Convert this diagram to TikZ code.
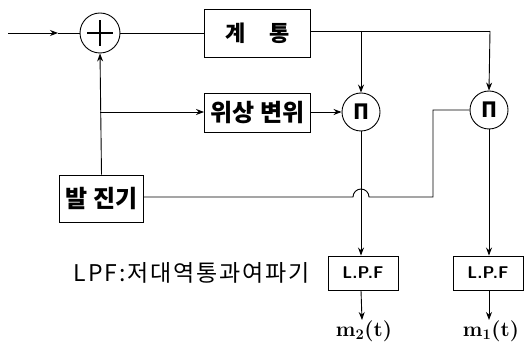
\documentclass[tikz,border=0pt]{standalone}
\usepackage{fontspec}
\newfontfamily\kr{Noto Sans CJK KR}
\newfontfamily\krw[LetterSpace=8]{Noto Sans CJK KR}
\usetikzlibrary{arrows.meta}
\begin{document}
\begin{tikzpicture}[x=1pt,y=-1pt,line width=0.9pt,
  blk/.style={draw,rectangle,inner sep=0pt,font=\kr\bfseries},
  opc/.style={draw,circle,minimum size=38pt,inner sep=0pt,font=\kr\bfseries},
  arr/.style={-{Stealth[length=8pt,width=6pt]}}]
\useasboundingbox (0,0) rectangle (530,347);
\coordinate (in) at (8,33);
\coordinate (inm) at (58,33);
\node[opc,minimum size=40pt] (add) at (100,33) {};
\draw[line width=1.6pt] ([yshift=-13pt]add.center) -- ([yshift=13pt]add.center)
  ([xshift=-13pt]add.center) -- ([xshift=13pt]add.center);
\node[blk,minimum width=106pt,minimum height=48pt] (sys) at (257.5,33) {\fontsize{22}{22}\selectfont 계\hspace{24pt}통};
\node[blk,minimum width=106pt,minimum height=39pt] (ph) at (257.5,112.5) {\fontsize{24}{24}\selectfont 위상 변위};
\node[blk,minimum width=84pt,minimum height=47pt] (osc) at (101.5,198.5) {\fontsize{24}{24}\selectfont 발 진기};
\node[opc] (p1) at (361,112) {\fontsize{21}{21}\selectfont Π};
\node[opc] (p2) at (489,110) {\fontsize{21}{21}\selectfont Π};
\node[blk,minimum width=70pt,minimum height=34pt,font=\sffamily\bfseries] (l1) at (363,273) {\fontsize{17}{17}\selectfont L.P.F};
\node[blk,minimum width=70pt,minimum height=34pt,font=\sffamily\bfseries] (l2) at (488,273) {\fontsize{17}{17}\selectfont L.P.F};
\node[font=\krw,anchor=west] (leg) at (70,273) {\fontsize{23}{23}\selectfont LPF:저대역통과여파기};
\node[font=\bfseries] (o1) at (364,331) {\fontsize{21}{21}\selectfont m\textsubscript{2}(t)};
\node[font=\bfseries] (o2) at (491,331) {\fontsize{21}{21}\selectfont m\textsubscript{1}(t)};
\coordinate (c1) at (490,31);
\coordinate (c2) at (361,31);
\coordinate (j1) at (100,112);
\coordinate (b1) at (433,197);
\draw[arr] (in) -- (inm);
\draw (inm) -- (add.west);
\draw (add.east) -- (sys.west);
\draw (sys.east |- c1) -- (c1);
\draw[arr] (c1) -- (p2.north);
\draw[arr] (c2) -- (p1.north);
\draw[arr] (ph.east |- p1) -- (p1.west);
\draw[arr] (j1) -- (ph.west |- j1);
\draw[arr] (osc.north) -- (add.south);
\draw (osc.east |- b1) -- (353,197) arc (180:360:8) -- (b1) -- (b1 |- p2) -- (p2.west);
\draw[arr] (p1.south) -- (p1.south |- l1.north);
\draw[arr] (p2.south) -- (p2.south |- l2.north);
\draw[arr] (l1.south -| p1) -- (362,320);
\draw[arr] (l2.south -| p2) -- (489,320);
\end{tikzpicture}
\end{document}
